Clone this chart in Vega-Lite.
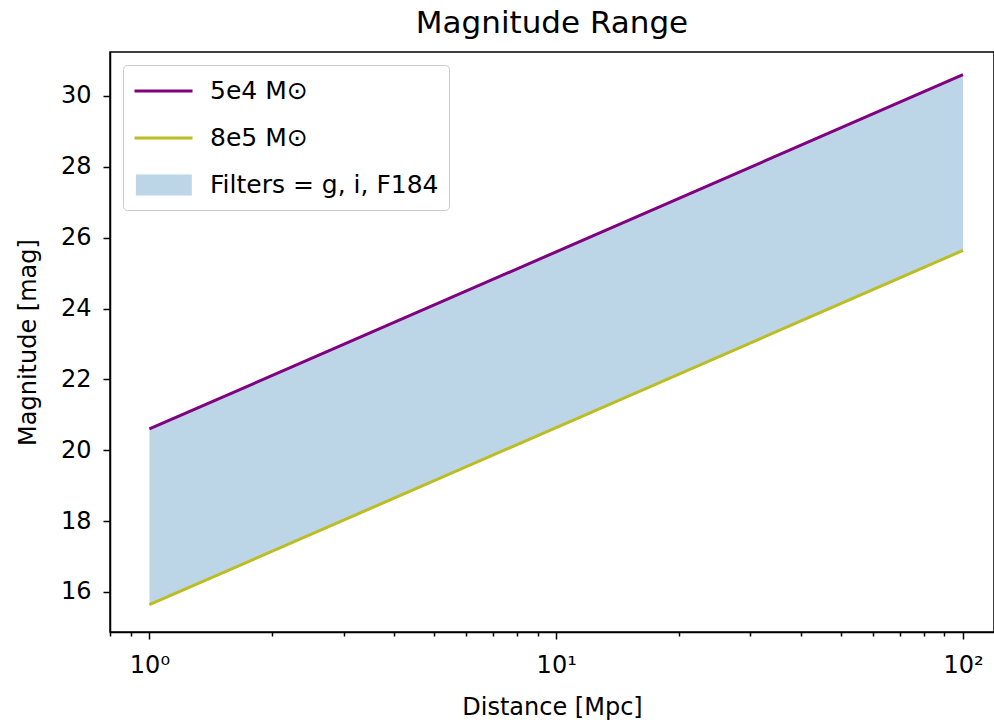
{
  "$schema": "https://vega.github.io/schema/vega-lite/v6.json",
  "autosize": {"type": "none"},
  "width": 884,
  "height": 580,
  "padding": {"left": 110, "top": 52, "right": 0, "bottom": 93},
  "background": "white",
  "config": {
    "font": "DejaVu Sans",
    "view": {"stroke": "#000", "strokeWidth": 1.5},
    "axis": {
      "domainColor": "#000", "domainWidth": 1.5,
      "tickColor": "#000", "tickWidth": 1.5,
      "labelColor": "#000", "titleColor": "#000",
      "labelFontSize": 24, "titleFontSize": 24, "titleFontWeight": "normal",
      "labelFont": "DejaVu Sans", "titleFont": "DejaVu Sans",
      "grid": false
    },
    "legend": {
      "orient": "none", "legendX": 13, "legendY": 13, "direction": "vertical",
      "labelFontSize": 25, "labelColor": "#000", "labelFont": "DejaVu Sans", "labelLimit": 400,
      "symbolSize": 841, "symbolStrokeWidth": 3, "labelOffset": 45, "rowPadding": 18,
      "padding": 10, "strokeColor": "#cccccc", "fillColor": "rgba(255,255,255,0.8)", "cornerRadius": 4
    }
  },
  "title": {"text": "Magnitude Range", "fontSize": 31, "fontWeight": "normal", "color": "#000", "anchor": "middle", "offset": 12, "font": "DejaVu Sans"},
  "datasets": {
    "band": [
      {"d": 1, "lo": 15.64, "hi": 20.6, "s": "Filters = g, i, F184"},
      {"d": 100, "lo": 25.64, "hi": 30.6, "s": "Filters = g, i, F184"}
    ],
    "lines": [
      {"d": 1, "m": 20.6, "s": "5e4 M⊙"},
      {"d": 100, "m": 30.6, "s": "5e4 M⊙"},
      {"d": 1, "m": 15.64, "s": "8e5 M⊙"},
      {"d": 100, "m": 25.64, "s": "8e5 M⊙"}
    ]
  },
  "layer": [
    {
      "data": {"name": "band"},
      "mark": {"type": "area", "opacity": 1},
      "encoding": {
        "x": {"field": "d", "type": "quantitative",
          "scale": {"type": "log", "domain": [0.8, 119.2], "nice": false},
          "axis": {"title": "Distance [Mpc]",
            "values": [0.8, 0.9, 1, 2, 3, 4, 5, 6, 7, 8, 9, 10, 20, 30, 40, 50, 60, 70, 80, 90, 100],
            "labelExpr": "datum.value==1?'10⁰':datum.value==10?'10¹':datum.value==100?'10²':''",
            "tickSize": {"condition": {"test": "datum.value==1||datum.value==10||datum.value==100", "value": 7}, "value": 4},
            "labelPadding": 14, "titlePadding": 18, "labelFlush": false, "labelOverlap": false}},
        "y": {"field": "lo", "type": "quantitative",
          "scale": {"domain": [14.87, 31.24], "nice": false, "zero": false},
          "axis": {"title": "Magnitude [mag]", "values": [16, 18, 20, 22, 24, 26, 28, 30], "tickSize": 7, "labelPadding": 12, "titlePadding": 20}},
        "y2": {"field": "hi"},
        "color": {"field": "s", "type": "nominal",
          "scale": {"domain": ["5e4 M⊙", "8e5 M⊙", "Filters = g, i, F184"], "range": ["#800080", "#bcbd22", "#bcd6e8"]},
          "legend": {
            "title": null,
            "encode": {"symbols": {"update": {
              "shape": {"signal": "datum.index == 2 ? 'M-0.8,-0.62H2.85V0.62H-0.8Z' : 'M-1,0H3'"},
              "fill": {"signal": "datum.index == 2 ? '#bcd6e8' : 'transparent'"},
              "stroke": {"signal": "datum.index == 2 ? 'transparent' : (datum.index == 0 ? '#800080' : '#bcbd22')"},
              "strokeWidth": {"value": 3},
              "opacity": {"value": 1}
            }}}
          }}
      }
    },
    {
      "data": {"name": "lines"},
      "mark": {"type": "line", "strokeWidth": 3},
      "encoding": {
        "x": {"field": "d", "type": "quantitative", "scale": {"type": "log", "domain": [0.8, 119.2], "nice": false}},
        "y": {"field": "m", "type": "quantitative", "scale": {"domain": [14.87, 31.24], "nice": false, "zero": false}},
        "color": {"field": "s", "type": "nominal",
          "legend": {
            "title": null,
            "encode": {"symbols": {"update": {
              "shape": {"signal": "datum.index == 2 ? 'M-0.8,-0.62H2.85V0.62H-0.8Z' : 'M-1,0H3'"},
              "fill": {"signal": "datum.index == 2 ? '#bcd6e8' : 'transparent'"},
              "stroke": {"signal": "datum.index == 2 ? 'transparent' : (datum.index == 0 ? '#800080' : '#bcbd22')"},
              "strokeWidth": {"value": 3},
              "opacity": {"value": 1}
            }}}
          }}
      }
    }
  ]
}
